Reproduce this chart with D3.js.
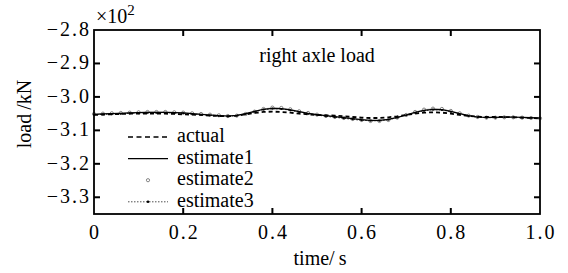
<!DOCTYPE html>
<html>
<head>
<meta charset="utf-8">
<script src="https://cdn.jsdelivr.net/npm/d3@7.9.0/dist/d3.min.js"></script>
<style>
  body { margin: 0; background: #fff; }
  .tick-label { font-size: 20px; letter-spacing: 2px; }
</style>
</head>
<body>
<div id="chart"></div>
<script>
// time axis, seconds
const times = d3.range(51).map((i) => +(i * 0.02).toFixed(2));

// load values in units of 10^2 kN
const actual = [
  -3.054, -3.053, -3.052, -3.051, -3.050, -3.050, -3.050, -3.050, -3.050, -3.051,
  -3.052, -3.053, -3.054, -3.056, -3.057, -3.058, -3.056, -3.052, -3.048, -3.045,
  -3.044, -3.045, -3.047, -3.050, -3.052, -3.054, -3.055, -3.056, -3.058, -3.060,
  -3.062, -3.063, -3.063, -3.061, -3.058, -3.054, -3.050, -3.047, -3.046, -3.047,
  -3.050, -3.054, -3.057, -3.059, -3.060, -3.060, -3.060, -3.061, -3.062, -3.063,
  -3.064
];
const estimate1 = [
  -3.052, -3.051, -3.050, -3.049, -3.048, -3.047, -3.046, -3.046, -3.046, -3.047,
  -3.048, -3.050, -3.052, -3.054, -3.056, -3.057, -3.055, -3.050, -3.043, -3.037,
  -3.034, -3.035, -3.039, -3.044, -3.049, -3.053, -3.056, -3.059, -3.062, -3.065,
  -3.068, -3.070, -3.070, -3.067, -3.061, -3.054, -3.046, -3.040, -3.037, -3.038,
  -3.043, -3.050, -3.056, -3.060, -3.061, -3.061, -3.060, -3.060, -3.061, -3.062,
  -3.063
];
const estimate2 = [
  -3.051, -3.050, -3.049, -3.048, -3.047, -3.046, -3.045, -3.045, -3.045, -3.046,
  -3.047, -3.049, -3.051, -3.053, -3.055, -3.057, -3.056, -3.051, -3.044, -3.036,
  -3.032, -3.033, -3.037, -3.043, -3.048, -3.053, -3.057, -3.060, -3.063, -3.066,
  -3.069, -3.072, -3.072, -3.069, -3.062, -3.054, -3.045, -3.038, -3.035, -3.036,
  -3.042, -3.049, -3.056, -3.060, -3.062, -3.062, -3.061, -3.061, -3.062, -3.063,
  -3.064
];
const estimate3 = [
  -3.053, -3.052, -3.051, -3.050, -3.049, -3.048, -3.047, -3.047, -3.047, -3.048,
  -3.049, -3.051, -3.053, -3.055, -3.057, -3.058, -3.056, -3.051, -3.044, -3.038,
  -3.035, -3.036, -3.040, -3.045, -3.050, -3.054, -3.058, -3.061, -3.064, -3.067,
  -3.070, -3.071, -3.071, -3.068, -3.062, -3.055, -3.047, -3.041, -3.038, -3.039,
  -3.044, -3.051, -3.057, -3.061, -3.062, -3.062, -3.061, -3.061, -3.062, -3.063,
  -3.064
];

const xTicks = [0, 0.2, 0.4, 0.6, 0.8, 1.0];
const xTickLabels = ['0', '0.2', '0.4', '0.6', '0.8', '1.0'];
const yTicks = [-2.8, -2.9, -3.0, -3.1, -3.2, -3.3];
const yTickLabels = ['\u22122.8', '\u22122.9', '\u22123.0', '\u22123.1', '\u22123.2', '\u22123.3'];
const legendNames = ['actual', 'estimate1', 'estimate2', 'estimate3'];

const width = 568;
const height = 273;
const margin = { top: 30, right: 28, bottom: 59, left: 94 };

const svg = d3.select('#chart')
  .append('svg')
  .attr('width', width)
  .attr('height', height)
  .attr('font-family', 'Liberation Serif, DejaVu Serif, serif');

const x = d3.scaleLinear().domain([0, 1]).range([margin.left, width - margin.right]);
const y = d3.scaleLinear().domain([-3.35, -2.8]).range([height - margin.bottom, margin.top]);

const line = (vals) => d3.line()
  .x((d, i) => x(times[i]))
  .y((d) => y(d))(vals);

// data
const plot = svg.append('g');

plot.append('path')
  .attr('d', line(estimate2))
  .attr('fill', 'none')
  .attr('stroke', '#aaa')
  .attr('stroke-width', 0.6);

plot.append('g')
  .selectAll('circle')
  .data(estimate2)
  .join('circle')
  .attr('cx', (d, i) => x(times[i]))
  .attr('cy', (d) => y(d))
  .attr('r', 1.6)
  .attr('fill', '#fff')
  .attr('stroke', '#555')
  .attr('stroke-width', 0.7);

plot.append('path')
  .attr('d', line(estimate3))
  .attr('fill', 'none')
  .attr('stroke', '#222')
  .attr('stroke-width', 1)
  .attr('stroke-dasharray', '1.5,1.5');

plot.append('g')
  .selectAll('circle')
  .data(estimate3)
  .join('circle')
  .attr('cx', (d, i) => x(times[i]))
  .attr('cy', (d) => y(d))
  .attr('r', 1)
  .attr('fill', '#000');

plot.append('path')
  .attr('d', line(estimate1))
  .attr('fill', 'none')
  .attr('stroke', '#000')
  .attr('stroke-width', 1.2);

plot.append('path')
  .attr('d', line(actual))
  .attr('fill', 'none')
  .attr('stroke', '#000')
  .attr('stroke-width', 1.8)
  .attr('stroke-dasharray', '4,3');

// frame + ticks
const x0 = margin.left, x1 = width - margin.right;
const y0 = margin.top, y1 = height - margin.bottom;

svg.append('rect')
  .attr('x', x0).attr('y', y0)
  .attr('width', x1 - x0).attr('height', y1 - y0)
  .attr('fill', 'none')
  .attr('stroke', '#000')
  .attr('stroke-width', 1.8);

const tickLen = 6;
const ticks = svg.append('g').attr('stroke', '#000').attr('stroke-width', 2);

xTicks.slice(1, -1).forEach((t) => {
  ticks.append('line').attr('x1', x(t)).attr('x2', x(t)).attr('y1', y1).attr('y2', y1 - tickLen);
  ticks.append('line').attr('x1', x(t)).attr('x2', x(t)).attr('y1', y0).attr('y2', y0 + tickLen);
});
yTicks.slice(1).forEach((t) => {
  ticks.append('line').attr('x1', x0).attr('x2', x0 + tickLen).attr('y1', y(t)).attr('y2', y(t));
  ticks.append('line').attr('x1', x1).attr('x2', x1 - tickLen).attr('y1', y(t)).attr('y2', y(t));
});

svg.append('g')
  .selectAll('text')
  .data(xTicks)
  .join('text')
  .attr('class', 'tick-label')
  .attr('x', (d) => x(d) + 1)
  .attr('y', y1 + 25)
  .attr('text-anchor', 'middle')
  .text((d, i) => xTickLabels[i]);

svg.append('g')
  .selectAll('text')
  .data(yTicks)
  .join('text')
  .attr('class', 'tick-label')
  .attr('x', x0 - 3)
  .attr('y', (d) => y(d) + 6)
  .attr('text-anchor', 'end')
  .text((d, i) => yTickLabels[i]);

// exponent
const ex = svg.append('text')
  .attr('x', x0 + 2)
  .attr('y', 23)
  .style('font-size', '20px');
ex.append('tspan').text('\u00d710');
ex.append('tspan').attr('dy', -8).style('font-size', '15px').text('2');

// axis titles
svg.append('text')
  .attr('x', 320)
  .attr('y', 265)
  .attr('text-anchor', 'middle')
  .style('font-size', '20px')
  .text('time/\u2009s');

svg.append('text')
  .attr('transform', 'rotate(-90)')
  .attr('x', -114)
  .attr('y', 31)
  .attr('text-anchor', 'middle')
  .style('font-size', '20px')
  .text('load\u2009/kN');

svg.append('text')
  .attr('x', 317)
  .attr('y', 62)
  .attr('text-anchor', 'middle')
  .style('font-size', '20px')
  .text('right axle load');

// legend
const legend = svg.append('g');
const ly = (i) => 137 + i * 21.6;
const lx0 = 128, lx1 = 168;

legend.append('line')
  .attr('x1', lx0).attr('x2', lx1).attr('y1', ly(0)).attr('y2', ly(0))
  .attr('stroke', '#000').attr('stroke-width', 1.3).attr('stroke-dasharray', '5,3.5');
legend.append('line')
  .attr('x1', lx0).attr('x2', lx1).attr('y1', ly(1)).attr('y2', ly(1))
  .attr('stroke', '#000').attr('stroke-width', 1.3);
legend.append('circle')
  .attr('cx', (lx0 + lx1) / 2).attr('cy', ly(2)).attr('r', 1.6)
  .attr('fill', '#fff').attr('stroke', '#555').attr('stroke-width', 0.7);
legend.append('line')
  .attr('x1', lx0).attr('x2', lx1).attr('y1', ly(3)).attr('y2', ly(3))
  .attr('stroke', '#222').attr('stroke-width', 0.8).attr('stroke-dasharray', '1.5,1.5');
legend.append('circle')
  .attr('cx', (lx0 + lx1) / 2).attr('cy', ly(3)).attr('r', 1.3).attr('fill', '#000');

legend.selectAll('text.name')
  .data(legendNames)
  .join('text')
  .attr('class', 'name')
  .attr('x', 177)
  .attr('y', (d, i) => ly(i) + 5)
  .style('font-size', '20px')
  .text((d) => d);
</script>
</body>
</html>
